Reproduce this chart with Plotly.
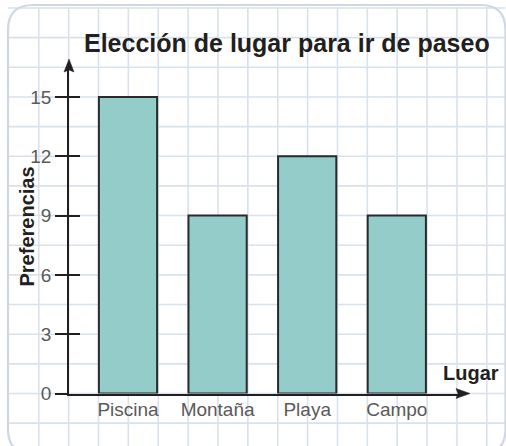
import plotly.graph_objects as go

# Data
lugares = ["Piscina", "Montaña", "Playa", "Campo"]
preferencias = [15, 9, 12, 9]
y_ticks = [0, 3, 6, 9, 12, 15]

titulo = "Elección de lugar para ir de paseo"
eje_y = "Preferencias"
eje_x = "Lugar"

# Canvas and geometry (pixels)
W, H = 506, 446
Y0_PX = 393.5        # baseline of the value axis
YTOP_PX = 66         # top of the value axis (arrow tip sits above it)
PX_PER_UNIT = 19.77  # vertical scale
XL_PX, XR_PX = 69, 462
FIRST_CENTER_PX = 128
CAT_STEP_PX = 89.6
CELL_X = 29.87
CELL_Y = 1.5 * PX_PER_UNIT

FONT = "Liberation Sans, Arial, Helvetica, sans-serif"
INK = "#231f20"
GRID = "#d8e1ec"
BORDER = "#cdd8e4"


def px(x):
    return x / W


def py(y):
    return 1 - y / H


y_range = [0, (Y0_PX - YTOP_PX) / PX_PER_UNIT]
x_range = [(XL_PX - FIRST_CENTER_PX) / CAT_STEP_PX, (XR_PX - FIRST_CENTER_PX) / CAT_STEP_PX]

fig = go.Figure()

fig.add_trace(go.Bar(
    x=list(range(len(lugares))),
    y=preferencias,
    marker=dict(color="#93ccc9", line=dict(color="#2a2a2a", width=2)),
    hoverinfo="skip",
    showlegend=False,
))
# empty trace so the overlaid tick axis is drawn
fig.add_trace(go.Scatter(x=[], y=[], yaxis="y2", showlegend=False, hoverinfo="skip"))

shapes = []
# squared paper background
left, top, right, bottom = 8, 5, 505.5, 454
k = -10
while True:
    xv = 98.5 + CELL_X * k
    k += 1
    if xv > W:
        break
    if xv < left + 2:
        continue
    shapes.append(dict(type="line", xref="paper", yref="paper", layer="below",
                       x0=px(xv), x1=px(xv), y0=py(top + 2), y1=py(H + 10),
                       line=dict(color=GRID, width=1.6)))
k = -3
while True:
    yv = Y0_PX - CELL_Y * k
    k += 1
    if yv < top + 1:
        break
    if yv > H + 5:
        continue
    shapes.append(dict(type="line", xref="paper", yref="paper", layer="below",
                       x0=px(left), x1=px(right), y0=py(yv), y1=py(yv),
                       line=dict(color=GRID, width=1.6)))

# rounded frame
r = 25
frame = (f"M{px(left + r)},{py(top)} L{px(right - r)},{py(top)} "
         f"Q{px(right)},{py(top)} {px(right)},{py(top + r)} "
         f"L{px(right)},{py(bottom - r)} "
         f"Q{px(right)},{py(bottom)} {px(right - r)},{py(bottom)} "
         f"L{px(left + r)},{py(bottom)} "
         f"Q{px(left)},{py(bottom)} {px(left)},{py(bottom - r)} "
         f"L{px(left)},{py(top + r)} "
         f"Q{px(left)},{py(top)} {px(left + r)},{py(top)} Z")
shapes.append(dict(type="path", xref="paper", yref="paper", layer="below",
                   path=frame, line=dict(color=BORDER, width=2.2)))

# arrow heads at the ends of both axes
tip_y = 59
shapes.append(dict(type="path", xref="paper", yref="paper", layer="above",
                   path=(f"M{px(XL_PX)},{py(tip_y)} L{px(XL_PX + 5)},{py(tip_y + 13)} "
                         f"L{px(XL_PX)},{py(tip_y + 11)} L{px(XL_PX - 5)},{py(tip_y + 13)} Z"),
                   fillcolor=INK, line=dict(color=INK, width=0.5)))
tip_x = 470
shapes.append(dict(type="path", xref="paper", yref="paper", layer="above",
                   path=(f"M{px(tip_x)},{py(Y0_PX)} L{px(tip_x - 14)},{py(Y0_PX - 5)} "
                         f"L{px(tip_x - 12)},{py(Y0_PX)} L{px(tip_x - 14)},{py(Y0_PX + 5)} Z"),
                   fillcolor=INK, line=dict(color=INK, width=0.5)))

annotations = [
    dict(text=f"<b>{titulo}</b>", xref="paper", yref="paper",
         x=px(82), y=py(42.5), xanchor="left", yanchor="middle", showarrow=False,
         font=dict(family=FONT, size=25, color=INK)),
    dict(text=f"<b>{eje_y}</b>", xref="paper", yref="paper", textangle=-90,
         x=px(27), y=py(226.5), xanchor="center", yanchor="middle", showarrow=False,
         font=dict(family=FONT, size=20, color=INK)),
    dict(text=f"<b>{eje_x}</b>", xref="paper", yref="paper",
         x=px(441), y=py(373), xanchor="left", yanchor="middle", showarrow=False,
         font=dict(family=FONT, size=20, color=INK)),
]

fig.update_layout(
    width=W, height=H,
    margin=dict(l=0, r=0, t=0, b=0, pad=0),
    paper_bgcolor="white",
    plot_bgcolor="rgba(0,0,0,0)",
    bargap=0.35,
    hovermode=False,
    shapes=shapes,
    annotations=annotations,
    xaxis=dict(
        domain=[px(XL_PX), px(XR_PX)],
        range=x_range,
        automargin=False,
        tickmode="array",
        tickvals=list(range(len(lugares))),
        ticktext=lugares,
        ticks="",
        showgrid=False, zeroline=False,
        showline=True, linecolor=INK, linewidth=2,
        tickfont=dict(family=FONT, size=19, color="#5a5a5a"),
        ticklabelstandoff=-2,
        fixedrange=True,
    ),
    yaxis=dict(
        domain=[py(Y0_PX), py(YTOP_PX)],
        range=y_range,
        automargin=False,
        tickmode="array",
        tickvals=y_ticks,
        ticks="outside", ticklen=12, tickwidth=1.6, tickcolor=INK,
        showgrid=False, zeroline=False,
        showline=True, linecolor=INK, linewidth=1.8,
        tickfont=dict(family=FONT, size=19, color="#5a5a5a"),
        ticklabelstandoff=0,
        fixedrange=True,
    ),
    yaxis2=dict(
        overlaying="y", anchor="x", side="left",
        range=y_range,
        automargin=False,
        tickmode="array",
        tickvals=y_ticks,
        ticks="inside", ticklen=11, tickwidth=1.6, tickcolor=INK,
        showticklabels=False,
        showgrid=False, zeroline=False, showline=False,
        fixedrange=True,
    ),
)

fig.write_html("out.html", config={"displayModeBar": False})
